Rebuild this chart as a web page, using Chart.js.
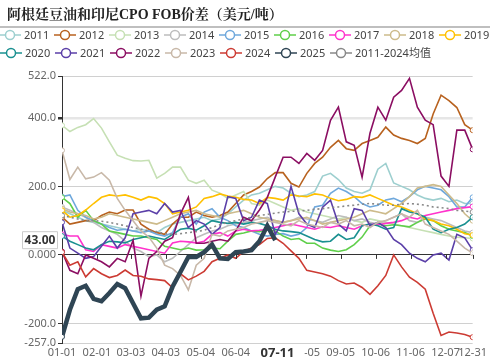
<!DOCTYPE html>
<html>
<head>
<meta charset="utf-8">
<script src="https://cdn.jsdelivr.net/npm/chart.js@4/dist/chart.umd.min.js"></script>
<style>
html, body { margin: 0; padding: 0; background: #fff; }
</style>
</head>
<body>
<canvas id="chart" width="490" height="360"></canvas>
<script>
// sampled day-of-year positions (weekly) and the axis ticks
const days = [0,7,14,21,28,35,42,49,56,63,70,77,84,91,98,105,112,119,126,133,140,147,154,161,168,175,182,189,196,203,210,217,224,231,238,245,252,259,266,273,280,287,294,301,308,315,322,329,336,343,350,357,364];
const tickDays = [0,31,61,92,123,154,185,216,247,278,309,340,364];
const tickLabels = ['01-01','02-01','03-03','04-03','05-04','06-04','07-05','08-05','09-05','10-06','11-06','12-07','12-31'];
const yTicks = [-257,-200,0,200,400,522];

const seriesNames = ['2011','2012','2013','2014','2015','2016','2017','2018','2019','2020','2021','2022','2023','2024','2025','2011-2024均值'];
const colors = ['#9dcfcf','#b8621f','#c6e0b4','#bdbdbd','#6fa8dc','#5fcf4a','#ff33cc','#cdbb8b','#ffc000','#1a9090','#5b3fa8','#8b0e62','#c8b8a8','#cc3b33','#2f4554','#888888'];

const s2011 = [130,120,110,100,95,90,85,80,75,70,75,70,65,80,90,95,100,105,110,100,105,120,140,160,175,180,190,200,195,180,170,175,185,230,238,220,195,185,180,190,250,267,210,200,190,175,165,160,165,155,160,150,150];
const s2012 = [110,90,95,100,100,115,125,120,131,131,90,75,65,60,90,110,110,125,115,110,115,125,150,175,185,198,223,240,240,209,198,238,267,285,314,334,310,305,325,334,343,373,350,340,334,325,340,411,466,450,430,380,364];
const s2013 = [378,360,372,380,398,370,330,291,282,275,274,276,224,238,256,256,218,209,218,189,180,165,175,185,150,145,160,150,140,130,135,125,120,115,110,105,110,100,95,105,100,95,90,85,80,75,70,65,60,55,52,50,48];
const s2014 = [140,130,120,110,95,80,70,60,40,20,10,-5,0,-20,-10,10,30,50,60,70,75,85,90,95,100,105,110,100,95,100,110,105,100,95,105,115,110,100,105,95,90,100,110,120,100,95,110,105,100,90,80,70,65];
const s2015 = [170,175,130,110,100,90,80,72,75,70,65,70,60,55,65,110,120,90,125,135,110,100,85,80,70,60,55,60,62,55,60,80,140,145,180,195,185,170,150,140,145,160,165,155,170,190,200,195,190,170,140,140,168];
const s2016 = [168,150,110,130,100,90,70,65,60,55,55,50,45,25,20,15,20,14,15,20,18,40,60,64,70,68,75,70,55,45,48,34,34,20,14,10,15,30,52,85,90,85,88,85,82,95,105,100,85,75,70,65,55];
const s2017 = [60,55,55,15,10,30,25,20,30,25,20,15,10,5,35,40,38,35,40,60,65,55,70,75,70,72,75,80,85,90,85,80,75,82,80,85,80,75,85,90,88,92,95,100,110,105,115,120,125,130,135,138,141];
const s2018 = [135,125,120,115,105,110,120,115,110,105,100,95,90,100,110,120,125,130,120,115,110,120,125,130,120,110,105,100,95,100,105,110,100,90,95,100,105,110,120,130,125,120,135,150,170,195,200,205,200,175,150,120,100];
const s2019 = [130,110,115,131,150,168,175,172,175,168,160,170,165,150,120,125,130,140,165,170,178,172,168,162,160,150,168,165,160,175,172,170,178,175,165,158,162,170,168,175,165,155,145,140,130,120,105,100,90,85,75,62,58];
const s2020 = [55,40,30,20,15,30,40,38,35,45,50,55,50,45,60,75,78,72,85,100,95,92,95,90,95,92,85,75,70,68,65,55,45,38,40,60,45,50,85,90,85,75,80,135,125,120,110,75,65,75,80,90,110];
const s2021 = [95,20,5,-10,-5,25,55,20,50,120,125,130,120,150,125,130,80,100,90,60,80,170,165,100,110,160,150,60,100,200,120,90,80,139,160,90,70,135,130,85,95,80,45,30,5,-10,-20,0,5,-15,60,50,14];
const s2022 = [10,-45,-55,0,-10,-20,-35,-10,-20,43,-120,-10,10,40,50,120,168,34,34,40,45,40,70,110,100,131,168,227,285,285,267,296,276,305,393,431,330,320,227,355,431,393,460,480,515,431,393,380,230,200,364,364,308];
const s2023 = [305,220,256,222,227,240,218,165,130,100,70,52,20,-30,-40,-60,-102,-30,-10,60,55,70,75,80,90,95,100,95,90,85,100,90,85,80,95,90,100,85,90,80,95,100,110,120,110,130,90,80,70,60,40,20,5];
const s2024 = [8,-30,-20,-64,-40,-55,-66,-60,-44,-60,-62,-70,-72,-75,-96,-55,-73,-62,-48,-20,-10,0,-10,10,20,30,48,50,34,12,-10,-45,-50,-55,-62,-75,-85,-82,-95,-115,-90,-60,0,-35,-65,-80,-100,-170,-235,-225,-228,-232,-240];
const s2025 = [-239,-160,-100,-90,-128,-135,-111,-85,-97,-141,-185,-183,-160,-150,-93,-50,-6,-6,8,30,-10,-12,8,10,14,40,85,43];
const sAvg = [115,110,105,100,100,98,95,90,85,80,75,70,68,62,60,62,65,68,72,80,88,95,100,105,110,115,118,122,125,127,128,130,133,135,138,140,143,145,148,150,148,145,145,148,150,148,145,140,138,135,130,128,125];

const allSeries = [s2011,s2012,s2013,s2014,s2015,s2016,s2017,s2018,s2019,s2020,s2021,s2022,s2023,s2024,s2025,sAvg];

// latest 2025 reading, shown as axis pointer labels
const markDay = 191;
const markLabel = '07-11';
const markValue = 43;

Chart.defaults.font.family = '"Noto Sans", "Noto Sans CJK SC", sans-serif';
Chart.defaults.font.size = 11;
Chart.defaults.color = '#666';

function toPoints(values) {
    return values.map((v, i) => ({ x: days[i], y: v }));
}

const datasets = allSeries.map((values, i) => {
    const isLatest = seriesNames[i] === '2025';
    const isAvg = i === allSeries.length - 1;
    return {
        label: seriesNames[i],
        data: toPoints(values),
        borderColor: colors[i],
        borderWidth: isLatest ? 4.5 : 1.6,
        borderDash: isAvg ? [2, 3] : [],
        pointRadius: c => (c.dataIndex === 0 || (!isLatest && c.dataIndex === values.length - 1)) ? 2.5 : 0,
        pointBorderWidth: 1,
        pointBackgroundColor: '#fff',
        pointBorderColor: colors[i],
        tension: 0,
        order: isLatest ? 0 : 20 - i
    };
});

const decor = {
    id: 'decor',
    beforeDraw(chart) {
        const c = chart.ctx;
        c.save();
        c.fillStyle = '#fff';
        c.fillRect(0, 0, chart.width, chart.height);
        c.restore();
    },
    afterDraw(chart) {
        const c = chart.ctx;
        const xs = chart.scales.x;
        const ys = chart.scales.y;
        c.save();

        // title + rule
        c.fillStyle = '#222';
        c.font = 'bold 14px "Liberation Serif", "Noto Serif CJK SC", "Noto Sans CJK SC", serif';
        c.textBaseline = 'middle';
        c.textAlign = 'left';
        c.fillText('阿根廷豆油和印尼CPO FOB价差（美元/吨）', 7, 15);
        c.strokeStyle = '#aaa';
        c.lineWidth = 1.5;
        c.beginPath();
        c.moveTo(0, 27);
        c.lineTo(chart.width, 27);
        c.stroke();

        // legend
        c.font = '11px "Noto Sans", "Noto Sans CJK SC", sans-serif';
        seriesNames.forEach((name, i) => {
            const row = i < 9 ? 0 : 1;
            const col = i < 9 ? i : i - 9;
            const tx = 24 + col * 55 + (row ? 1 : 0);
            const ty = row ? 53 : 35;
            c.strokeStyle = colors[i];
            c.lineWidth = 1.5;
            c.beginPath();
            c.moveTo(tx - 25, ty);
            c.lineTo(tx - 3, ty);
            c.stroke();
            c.beginPath();
            c.arc(tx - 14, ty, 4.5, 0, Math.PI * 2);
            c.fillStyle = '#fff';
            c.fill();
            c.stroke();
            c.fillStyle = '#444';
            c.fillText(name, tx, ty + 1);
        });

        // small ticks on the zero line
        const y0 = ys.getPixelForValue(0);
        c.strokeStyle = '#333';
        c.lineWidth = 1;
        tickDays.forEach(d => {
            const x = Math.round(xs.getPixelForValue(d)) + 0.5;
            c.beginPath();
            c.moveTo(x, y0);
            c.lineTo(x, y0 + 4);
            c.stroke();
        });

        // x pointer label
        const mx = xs.getPixelForValue(markDay);
        c.fillStyle = '#fff';
        c.fillRect(mx - 27, 344, 54, 16);
        c.fillStyle = '#333';
        c.font = 'bold 13px "Noto Sans", sans-serif';
        c.textAlign = 'center';
        c.fillText(markLabel, mx, 353);

        // y pointer label
        const my = ys.getPixelForValue(markValue);
        c.fillStyle = '#fff';
        c.strokeStyle = '#ccc';
        c.beginPath();
        c.rect(22.5, my - 8.5, 35, 17);
        c.fill();
        c.stroke();
        c.fillStyle = '#333';
        c.font = 'bold 12px "Noto Sans", sans-serif';
        c.fillText(markValue.toFixed(2), 40, my + 0.5);

        c.restore();
    }
};

new Chart(document.getElementById('chart'), {
    type: 'line',
    data: { datasets },
    options: {
        responsive: false,
        animation: false,
        layout: { padding: { top: 76, right: 15, left: 0, bottom: 0 } },
        plugins: { legend: { display: false }, tooltip: { enabled: false } },
        scales: {
            x: {
                type: 'linear',
                min: 0,
                max: 364,
                afterBuildTicks: s => { s.ticks = tickDays.map(v => ({ value: v })); },
                afterFit: s => { s.height = 17; },
                grid: { display: false, drawTicks: false },
                border: { display: false },
                ticks: {
                    autoSkip: false,
                    maxRotation: 0,
                    padding: 3,
                    color: '#666',
                    callback: v => tickLabels[tickDays.indexOf(v)]
                }
            },
            y: {
                min: -257,
                max: 522,
                afterBuildTicks: s => { s.ticks = yTicks.map(v => ({ value: v })); },
                afterFit: s => { s.width = 62; },
                grid: {
                    color: c => c.tick.value === 0 ? '#333' : (c.tick.value === 400 ? '#e6e6e6' : '#d0d0d0'),
                    lineWidth: c => c.tick.value === 400 ? 2.5 : 1,
                    tickLength: 4,
                    tickColor: '#333'
                },
                border: { display: true, color: '#333', width: 1 },
                ticks: {
                    autoSkip: false,
                    padding: 2,
                    color: '#666',
                    callback: v => v === 0 ? '0.000' : v.toFixed(1)
                }
            }
        }
    },
    plugins: [decor]
});
</script>
</body>
</html>
